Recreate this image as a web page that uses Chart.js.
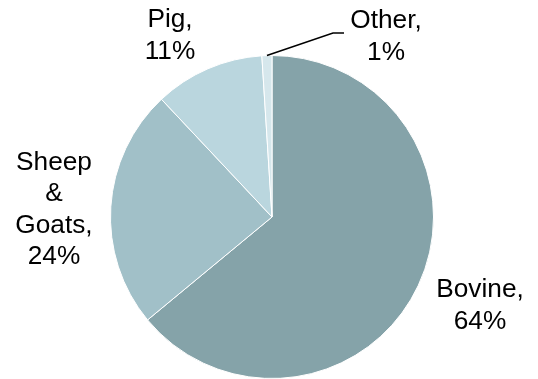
<!DOCTYPE html>
<html>
<head>
<meta charset="utf-8">
<script src="https://cdn.jsdelivr.net/npm/chart.js@4/dist/chart.umd.min.js"></script>
<style>
  html, body { margin: 0; padding: 0; background: #ffffff; }
  #wrap { width: 538px; height: 379px; }
</style>
</head>
<body>
<div id="wrap"><canvas id="c" width="538" height="379"></canvas></div>
<script>
// Livestock categories and their shares (%)
const categories = ['Bovine', 'Sheep & Goats', 'Pig', 'Other'];
const shares = [64, 24, 11, 1];
// Text drawn next to each slice, one entry per line
const labelLines = [
  ['Bovine,', '64%'],
  ['Sheep', '&', 'Goats,', '24%'],
  ['Pig,', '11%'],
  ['Other,', '1%']
];
const sliceColors = ['#85A3A9', '#A1C0C8', '#BAD6DE', '#D6E7EC'];

// Text block placement: centre x and baseline of the first line; elbow of the leader line for small slices
const labelPlacement = [
  { x: 480, y: 297 },
  { x: 54,  y: 169.5 },
  { x: 170, y: 27 },
  { x: 386, y: 28, leader: { elbowX: 333, elbowY: 33, endX: 344 } }
];

const sliceLabels = {
  id: 'sliceLabels',
  afterDatasetsDraw(chart) {
    const ctx = chart.ctx;
    const meta = chart.getDatasetMeta(0);
    const lineH = 31.5;
    const stretch = 1.05;
    meta.data.forEach((arc, i) => {
      const p = labelPlacement[i];
      const lines = labelLines[i];
      ctx.save();
      ctx.fillStyle = '#000000';
      ctx.font = '25px "Liberation Sans", Arial, sans-serif';
      ctx.textAlign = 'center';
      ctx.textBaseline = 'alphabetic';
      ctx.translate(p.x, 0);
      ctx.scale(stretch, 1);
      lines.forEach((t, k) => ctx.fillText(t, 0, p.y + k * lineH));
      ctx.restore();
      if (p.leader) {
        const mid = (arc.startAngle + arc.endAngle) / 2;
        const sx = arc.x + Math.cos(mid) * arc.outerRadius;
        const sy = arc.y + Math.sin(mid) * arc.outerRadius;
        ctx.save();
        ctx.beginPath();
        ctx.strokeStyle = '#000000';
        ctx.lineWidth = 1.5;
        ctx.moveTo(sx, sy);
        ctx.lineTo(p.leader.elbowX, p.leader.elbowY);
        ctx.lineTo(p.leader.endX, p.leader.elbowY);
        ctx.stroke();
        ctx.restore();
      }
    });
  }
};

new Chart(document.getElementById('c'), {
  type: 'pie',
  data: {
    labels: categories,
    datasets: [{
      data: shares,
      backgroundColor: sliceColors,
      borderColor: '#ffffff',
      borderWidth: 1
    }]
  },
  options: {
    responsive: false,
    animation: false,
    layout: { padding: { left: 110, right: 104, top: 55, bottom: 0 } },
    plugins: {
      legend: { display: false },
      tooltip: { enabled: false }
    }
  },
  plugins: [sliceLabels]
});
</script>
</body>
</html>
